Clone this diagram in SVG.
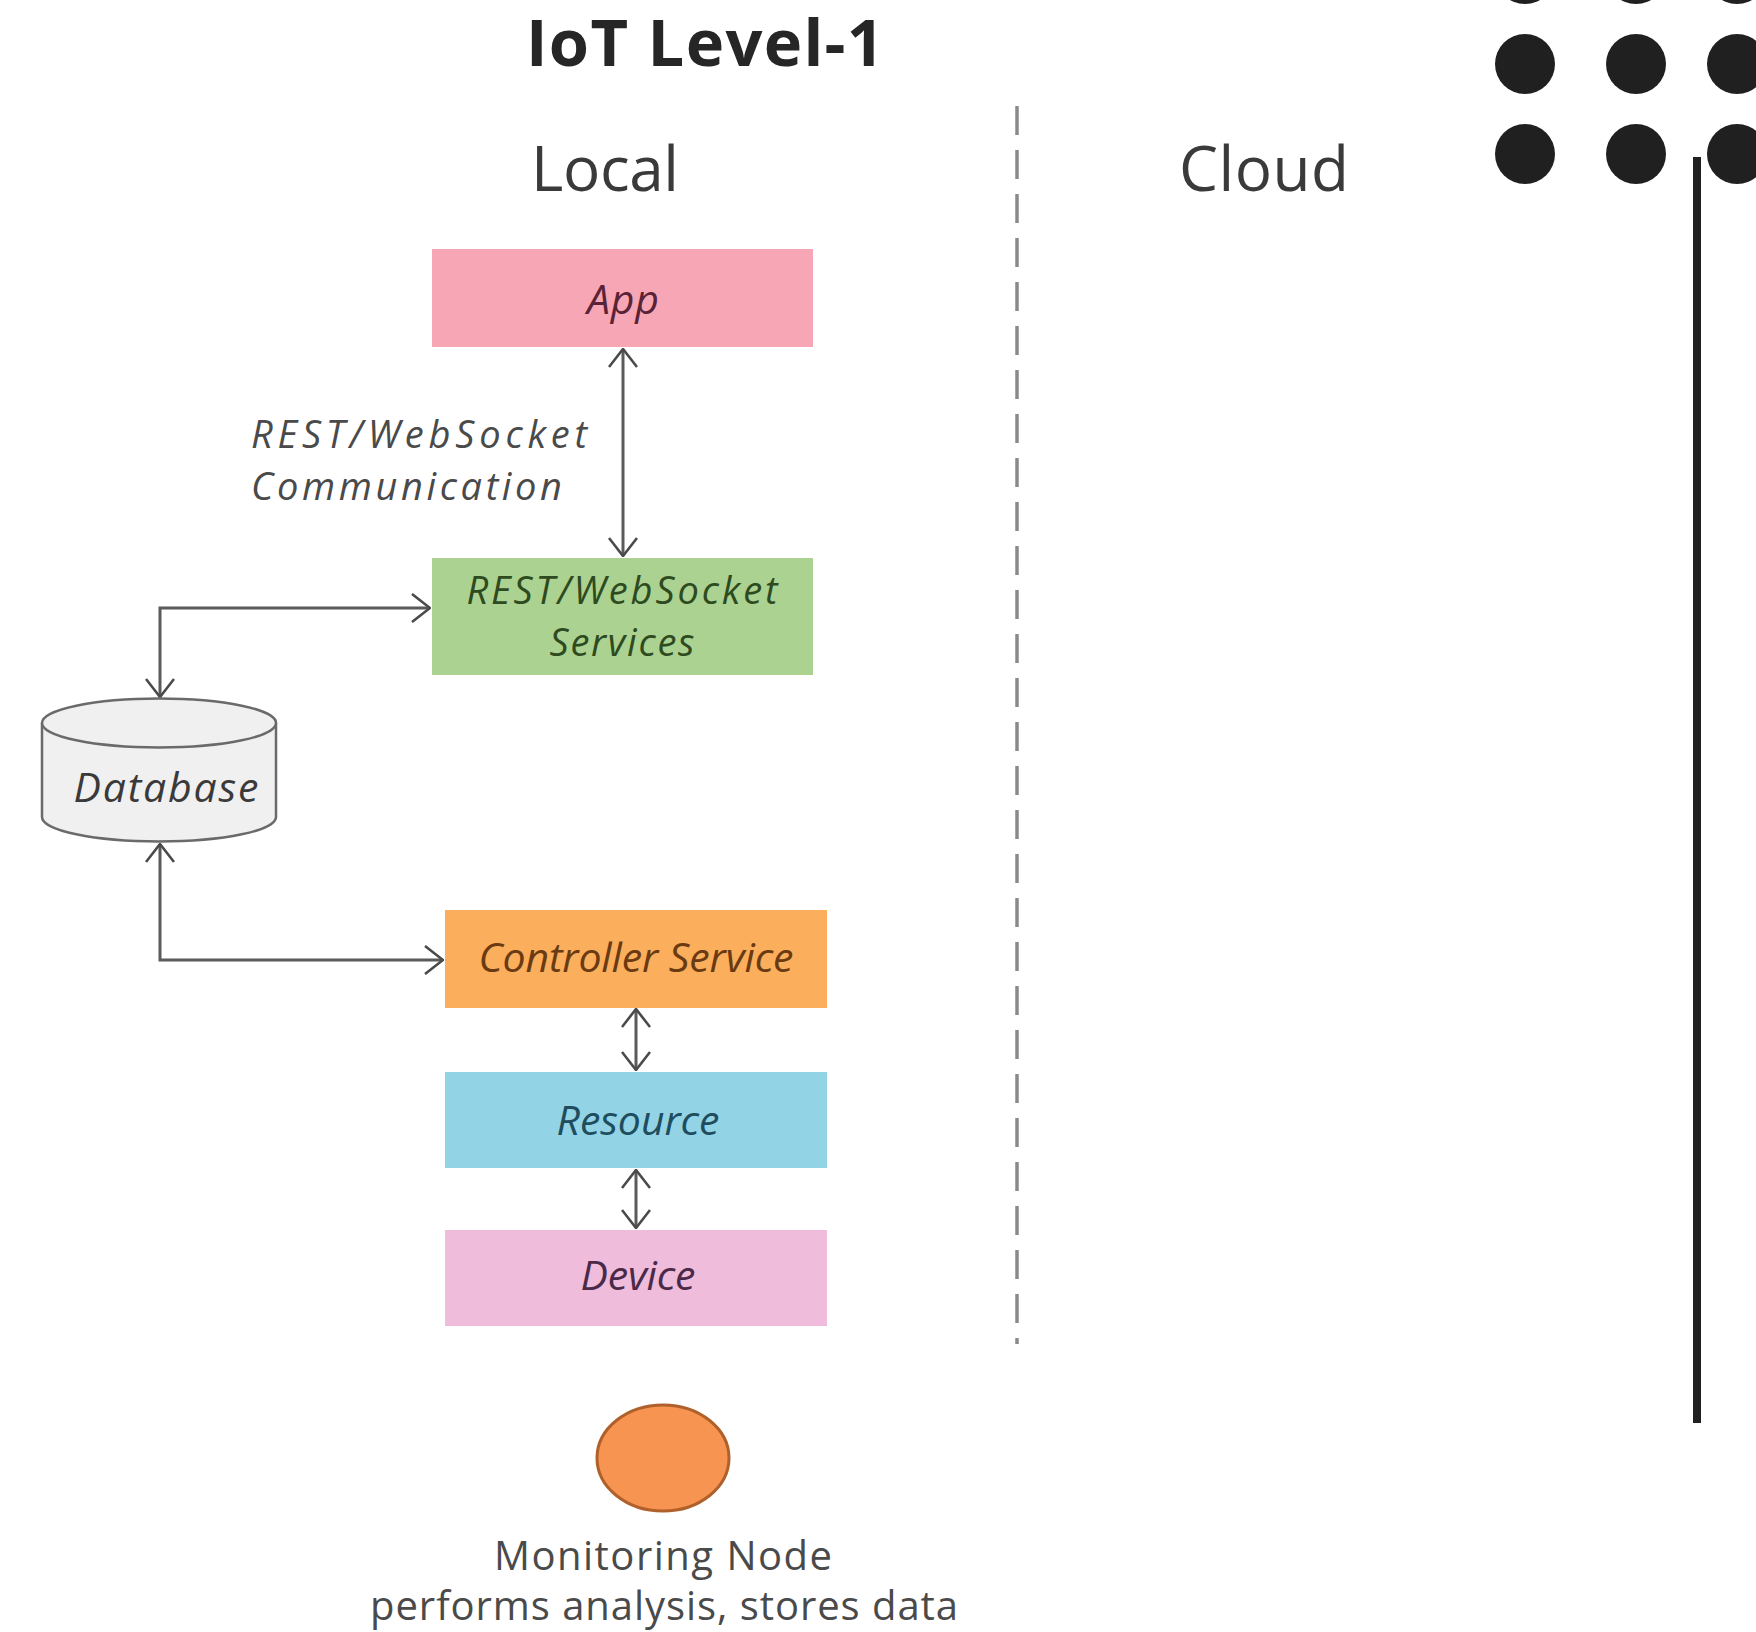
<svg xmlns="http://www.w3.org/2000/svg" width="1756" height="1632" viewBox="0 0 1756 1632">
<style>
text{font-family:"Open Sans","Liberation Sans",sans-serif}
.hd{font-size:62px;fill:#3a3a3a}
.lbl{font-size:41px;font-style:italic;text-anchor:middle}
.two{font-size:38px}
.cap{font-size:38px;font-style:italic;fill:#4a4a4a}
.conn{fill:none;stroke:#5a5a5a;stroke-width:3}
.ft{font-size:40px;fill:#4a4a4a;text-anchor:middle}
</style>
<defs>
<marker id="ah" viewBox="0 0 20 30" refX="19" refY="15" markerWidth="20" markerHeight="30" markerUnits="userSpaceOnUse" orient="auto-start-reverse">
<path d="M1,1 L19,15 L1,29" fill="none" stroke="#4a4a4a" stroke-width="2.6"/>
</marker>
</defs>
<rect width="1756" height="1632" fill="#ffffff"/>

<g id="decor">
<g fill="#202020">
<circle cx="1525" cy="-26" r="30"/><circle cx="1636" cy="-26" r="30"/><circle cx="1737" cy="-26" r="30"/>
<circle cx="1525" cy="64" r="30"/><circle cx="1636" cy="64" r="30"/><circle cx="1737" cy="64" r="30"/>
<circle cx="1525" cy="154" r="30"/><circle cx="1636" cy="154" r="30"/><circle cx="1737" cy="154" r="30"/>
</g>
<rect x="1693" y="157" width="8" height="1266" fill="#202020"/>
</g>

<g id="title">
<text x="705" y="66" text-anchor="middle" font-family="Lato, 'Open Sans', sans-serif" font-size="65" font-weight="bold" fill="#262626" textLength="358">IoT Level-1</text>
</g>
<g id="headers">
<text class="hd" x="531" y="191" textLength="148">Local</text>
<text class="hd" x="1179" y="191" textLength="170">Cloud</text>
<line x1="1017" y1="106" x2="1017" y2="1344" stroke="#8a8a8a" stroke-width="3.5" stroke-dasharray="29,15"/>
</g>

<g id="connectors">
<line class="conn" x1="623" y1="349" x2="623" y2="556" marker-start="url(#ah)" marker-end="url(#ah)"/>
<polyline class="conn" points="160,697 160,608 430,608" marker-start="url(#ah)" marker-end="url(#ah)"/>
<polyline class="conn" points="160,844 160,960 443,960" marker-start="url(#ah)" marker-end="url(#ah)"/>
<line class="conn" x1="636" y1="1009" x2="636" y2="1070" marker-start="url(#ah)" marker-end="url(#ah)"/>
<line class="conn" x1="636" y1="1170" x2="636" y2="1228" marker-start="url(#ah)" marker-end="url(#ah)"/>
<text class="cap" x="251" y="448" textLength="336">REST/WebSocket</text>
<text class="cap" x="251" y="500" textLength="311">Communication</text>
</g>

<g id="app">
<rect x="432" y="249" width="381" height="98" fill="#f7a6b5"/>
<text class="lbl" x="623" y="314" fill="#5a2335" textLength="72">App</text>
</g>

<g id="services">
<rect x="432" y="558" width="381" height="117" fill="#abd290"/>
<text class="lbl two" x="622" y="604" fill="#2e4a1f" textLength="311">REST/WebSocket</text>
<text class="lbl two" x="622" y="656" fill="#2e4a1f" textLength="145">Services</text>
</g>

<g id="database">
<path d="M42,723 L42,817 A117,24.5 0 0 0 276,817 L276,723" fill="#f0f0f0" stroke="#6a6a6a" stroke-width="2.5"/>
<ellipse cx="159" cy="723" rx="117" ry="24.5" fill="#f0f0f0" stroke="#6a6a6a" stroke-width="2.5"/>
<text class="lbl" x="166" y="802" fill="#3a3a3a" textLength="185">Database</text>
</g>

<g id="controller">
<rect x="445" y="910" width="382" height="98" fill="#fbae5c"/>
<text class="lbl" x="636" y="972" fill="#6a3a12" font-size="39" textLength="315">Controller Service</text>
</g>

<g id="resource">
<rect x="445" y="1072" width="382" height="96" fill="#92d4e6"/>
<text class="lbl" x="638" y="1135" fill="#1f4d5e" textLength="163">Resource</text>
</g>

<g id="device">
<rect x="445" y="1230" width="382" height="96" fill="#efbddb"/>
<text class="lbl" x="638" y="1290" fill="#4a2a48" textLength="115">Device</text>
</g>

<g id="monitoring">
<ellipse cx="663" cy="1458" rx="66" ry="53" fill="#f79452" stroke="#b0602a" stroke-width="3"/>
<text class="ft" x="663" y="1570" textLength="338">Monitoring Node</text>
<text class="ft" x="664" y="1620" textLength="588">performs analysis, stores data</text>
</g>
</svg>
